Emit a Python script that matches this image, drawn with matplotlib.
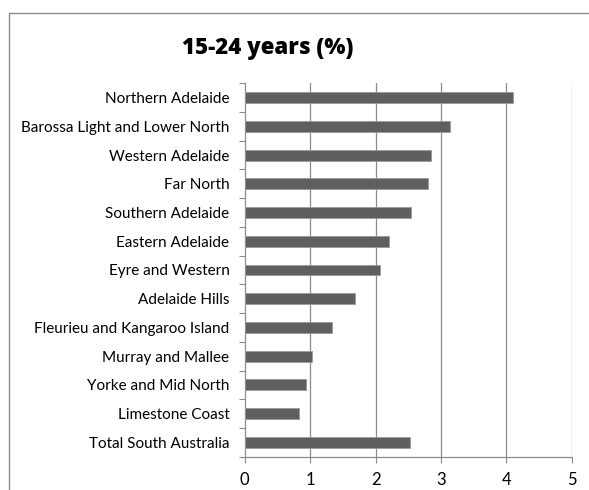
import numpy as np
import matplotlib.pyplot as plt
from matplotlib.patches import Rectangle
from matplotlib.ticker import FixedLocator

regions = [
    "Northern Adelaide",
    "Barossa Light and Lower North",
    "Western Adelaide",
    "Far North",
    "Southern Adelaide",
    "Eastern Adelaide",
    "Eyre and Western",
    "Adelaide Hills",
    "Fleurieu and Kangaroo Island",
    "Murray and Mallee",
    "Yorke and Mid North",
    "Limestone Coast",
    "Total South Australia",
]
share_15_24 = [4.10, 3.14, 2.85, 2.81, 2.55, 2.21, 2.07, 1.68, 1.33, 1.03, 0.94, 0.83, 2.52]
x_ticks = [0, 1, 2, 3, 4, 5]

plt.rcParams["font.family"] = ["Lato", "DejaVu Sans"]
grid_col = "#8c8c8c"
bar_col = "#5f5f5f"

fig = plt.figure(figsize=(5.89, 4.90), dpi=100)
# chart frame (runs off the right and bottom edges)
fig.patches.append(Rectangle((9 / 589, -0.1), 1.0, 1 - 13 / 490 + 0.1,
                             transform=fig.transFigure, fill=False,
                             edgecolor="#8c8c8c", linewidth=1.0))

ax = fig.add_axes([244.7 / 589, 1 - 456.7 / 490, 327 / 589, 373.4 / 490])

y = np.arange(len(regions))
ax.barh(y, share_15_24, height=0.38, color=bar_col, edgecolor="#9a9a9a",
        linewidth=0.6, zorder=3)

ax.set_xlim(0, 5)
ax.set_ylim(len(regions) - 0.5, -0.5)
ax.set_xticks(x_ticks)
ax.set_xticklabels([str(t) for t in x_ticks], fontsize=12)
ax.set_yticks(y)
ax.set_yticklabels(regions, fontsize=11)
ax.yaxis.set_minor_locator(FixedLocator(np.arange(-0.5, len(regions), 1)))
ax.tick_params(axis="y", which="major", length=0, pad=11)
ax.tick_params(axis="y", which="minor", length=4, color=grid_col, width=0.8)
ax.tick_params(axis="x", length=4, color=grid_col, width=0.8, pad=7)

for v in x_ticks[1:]:
    ax.axvline(v, color=grid_col, linewidth=0.9, zorder=1)

for side in ["top", "right"]:
    ax.spines[side].set_visible(False)
for side in ["left", "bottom"]:
    ax.spines[side].set_color(grid_col)
    ax.spines[side].set_linewidth(0.9)

fig.text(268 / 589, 1 - 48 / 490, "15-24 years (%)", ha="center", va="center",
         fontsize=16, fontweight=800, family=["Open Sans", "DejaVu Sans"])

fig.savefig("out.png", dpi=100)
